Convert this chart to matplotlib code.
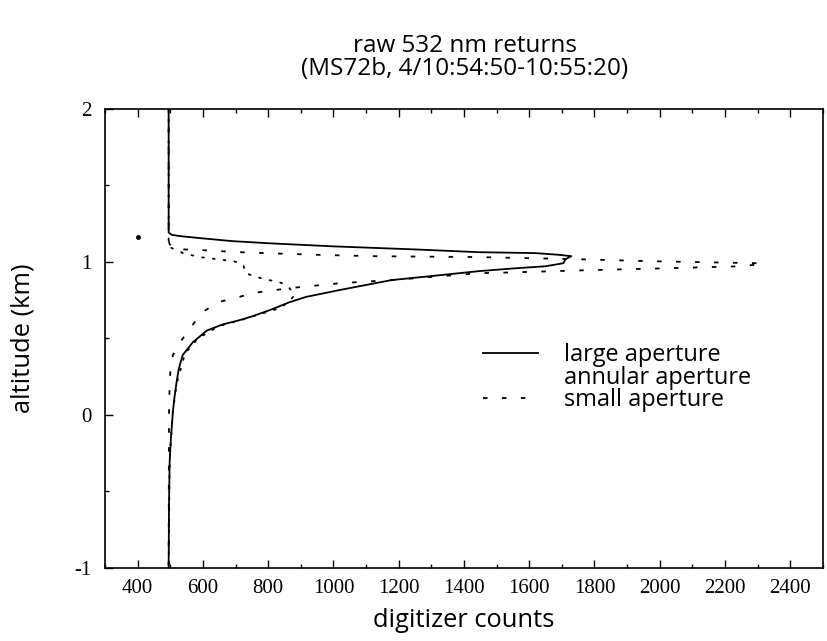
import matplotlib
matplotlib.use("Agg")
import matplotlib.pyplot as plt
from matplotlib.lines import Line2D
from matplotlib.ticker import MultipleLocator

# ---- data ----
large_alt = [2.0, 1.19, 1.175, 1.167, 1.154, 1.134, 1.12, 1.10, 1.08, 1.062, 1.056,
             1.045, 1.036, 1.016, 0.99, 0.97, 0.955, 0.938, 0.906, 0.88, 0.848, 0.814,
             0.77, 0.735, 0.683, 0.644, 0.618, 0.59, 0.55, 0.474, 0.39, 0.30, 0.21,
             0.10, 0.02, -0.15, -0.31, -0.6, -1.0]
large_cnt = [495, 495, 505, 530, 590, 691, 804, 1000, 1250, 1445, 1619,
             1690, 1729, 1711, 1705, 1650, 1546, 1445, 1300, 1179, 1100, 1017,
             916, 865, 804, 752, 712, 660, 612, 569, 538, 526, 519,
             512, 508, 502, 498, 496, 495]

annular_alt = [2.0, 1.10, 1.088, 1.055, 1.03, 1.016, 1.0, 0.977, 0.95, 0.925, 0.905,
               0.886, 0.873, 0.86, 0.827, 0.80, 0.78, 0.76, 0.735, 0.70, 0.676, 0.65,
               0.62, 0.58, 0.50, 0.40, 0.20, 0.0, -0.3, -1.0]
annular_cnt = [495, 495, 505, 540, 590, 645, 700, 724, 727, 730, 758,
               788, 819, 843, 865, 876, 880, 872, 859, 840, 804, 764,
               720, 650, 585, 545, 519, 507, 498, 495]

small_alt = [2.0, 1.15, 1.12, 1.09, 1.08, 1.075, 1.063, 1.055, 1.045, 1.036, 1.03,
             1.016, 1.003, 0.99, 0.985, 0.97, 0.955, 0.944, 0.93, 0.925, 0.90, 0.88,
             0.86, 0.827, 0.795, 0.77, 0.735, 0.67, 0.565, 0.47, 0.39, 0.28, 0.19,
             0.0, -1.0]
small_cnt = [495, 495, 497, 505, 540, 600, 700, 800, 950, 1118, 1445,
             1750, 1973, 2300, 2315, 2248, 1985, 1772, 1546, 1445, 1300, 1179,
             1024, 865, 752, 712, 645, 599, 560, 529, 508, 500, 498,
             496, 495]

stray_cnt = [400]
stray_alt = [1.16]

x_ticks = [400, 600, 800, 1000, 1200, 1400, 1600, 1800, 2000, 2200, 2400]
y_ticks = [-1, 0, 1, 2]
legend_labels = ["large aperture", "annular aperture", "small aperture"]
title_main = "raw 532 nm returns"
title_sub = "(MS72b, 4/10:54:50-10:55:20)"

# ---- figure ----
fig = plt.figure(figsize=(8.27, 6.41), dpi=100)
ax = fig.add_axes([0.127, 0.1139, 0.868, 0.7168])

lw = 1.3
ax.plot(large_cnt, large_alt, color="black", lw=lw, solid_joinstyle="round")
ax.plot(annular_cnt, annular_alt, color="black", lw=lw, linestyle=(0, (1, 5)),
        dash_capstyle="round")
ax.plot(small_cnt, small_alt, color="black", lw=lw, linestyle=(0, (2.5, 8)))
ax.plot(stray_cnt, stray_alt, "o", color="black", ms=2.5)

ax.set_xlim(300, 2500)
ax.set_ylim(-1, 2)
ax.set_xticks(x_ticks)
ax.set_yticks(y_ticks)
ax.xaxis.set_minor_locator(MultipleLocator(100))
ax.yaxis.set_minor_locator(MultipleLocator(0.5))
ax.tick_params(which="both", direction="in", top=True, right=False)
ax.tick_params(which="major", length=6, width=1)
ax.tick_params(which="minor", length=3, width=1)
for s in ax.spines.values():
    s.set_linewidth(1.2)

tick_font = dict(family="Liberation Serif", size=15)
ax.set_xticklabels([str(t) for t in x_ticks], **tick_font)
ax.set_yticklabels([str(t) for t in y_ticks], **tick_font)
ax.tick_params(axis="x", pad=8)
ax.tick_params(axis="y", pad=10)

label_font = dict(family="Open Sans", size=18.4)
ax.set_xlabel("digitizer counts", labelpad=7, **label_font)
ax.set_ylabel("altitude (km)", labelpad=28, **label_font)

fig.text(0.562, 0.928, title_main, ha="center", va="center", family="Open Sans", size=17.5)
fig.text(0.562, 0.892, title_sub, ha="center", va="center", family="Open Sans", size=17.5)

handles = [
    Line2D([], [], color="black", lw=lw),
    Line2D([], [], color="none", lw=0),
    Line2D([], [], color="black", lw=lw, linestyle=(0, (2.5, 8))),
]
leg = ax.legend(handles, legend_labels, loc="upper left",
                bbox_to_anchor=(0.526, 0.489), frameon=False,
                borderpad=0, borderaxespad=0,
                prop=dict(family="Open Sans", size=16.9), handlelength=2.35,
                handletextpad=1.1, labelspacing=-0.06)

fig.savefig("out.png", dpi=100)
